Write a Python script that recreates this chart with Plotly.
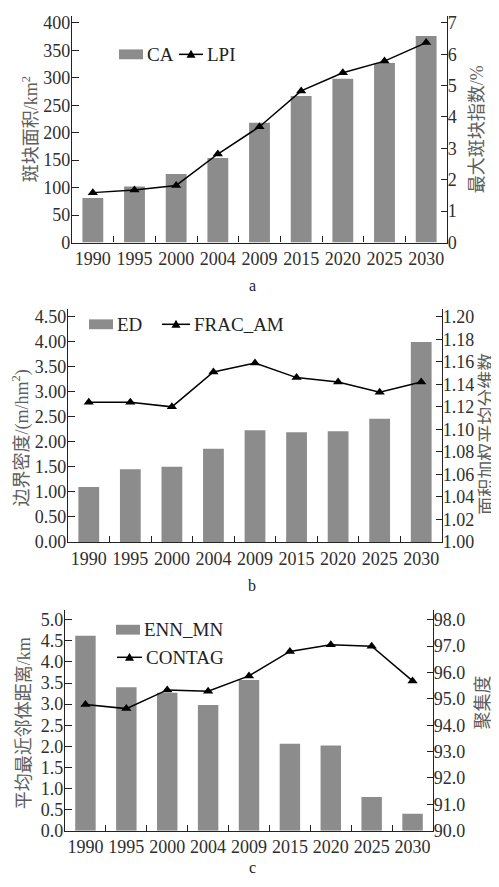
import plotly.graph_objects as go

# ---------------- data ----------------
years = ["1990", "1995", "2000", "2004", "2009", "2015", "2020", "2025", "2030"]

ca = [81, 102, 125, 154, 218, 267, 298, 327, 376]            # 斑块面积 / km2
lpi = [1.59, 1.67, 1.82, 2.82, 3.69, 4.83, 5.41, 5.78, 6.37]  # 最大斑块指数 / %

ed = [1.10, 1.45, 1.50, 1.86, 2.23, 2.19, 2.21, 2.46, 3.99]   # 边界密度
frac_am = [1.124, 1.124, 1.120, 1.151, 1.159, 1.146, 1.142, 1.133, 1.142]

enn_mn = [4.62, 3.40, 3.27, 2.98, 3.57, 2.06, 2.02, 0.80, 0.40]
contag = [94.79, 94.63, 95.34, 95.29, 95.87, 96.80, 97.05, 97.00, 95.68]

# ---------------- style ----------------
# the page body has an 8px default margin, so the figure is sized to the
# visible area and reference page coordinates are offset by that margin
OFF = 8
W, H = 499 - OFF, 887 - OFF
FONT = "Liberation Serif, Times New Roman, Noto Sans CJK SC, serif"
BAR = "#8c8c8c"
AXC = "#222222"
TICKC = "#2e2e2e"
TITC = "#5e5e5e"
TS = 18


def px(x):
    return (x - OFF) / W


def py(y):
    return 1 - (y - OFF) / H


panels = [
    dict(bars=ca, line=lpi, bname="CA", lname="LPI",
         box=(72, 447, 13, 243), yl=[0, 412.6], yr=[0, 7.22],
         dl=50, dr=1, fl="d", fr="d",
         ltitle="斑块面积/km<sup>2</sup>", ltx=30, lty=128,
         rtitle="最大斑块指数/%", rtx=477, rty=128, rts=18,
         label="a", laby=287),
    dict(bars=ed, line=frac_am, bname="ED", lname="FRAC_AM",
         box=(68, 442, 310, 547), yl=[0, 4.66], yr=[1.0, 1.2073],
         dl=0.5, dr=0.02, fl=".2f", fr=".2f",
         ltitle="边界密度/(m/hm<sup>2</sup>)", ltx=21, lty=442,
         rtitle="面积加权平均分维数", rtx=487, rty=437, rts=18,
         label="b", laby=591),
    dict(bars=enn_mn, line=contag, bname="ENN_MN", lname="CONTAG",
         box=(65, 433, 616, 840), yl=[0, 5.23], yr=[90, 98.37],
         dl=0.5, dr=1, fl=".1f", fr=".1f",
         ltitle="平均最近邻体距离/km", ltx=24, lty=731,
         rtitle="聚集度", rtx=483, rty=710, rts=18,
         label="c", laby=877),
]

fig = go.Figure()
layout = dict(
    width=W, height=H,
    margin=dict(l=0, r=0, t=0, b=0),
    paper_bgcolor="white", plot_bgcolor="white",
    font=dict(family=FONT, size=TS, color=TICKC),
    showlegend=False,
    bargap=0.5,
)
annotations = []
shapes = []

for i, p in enumerate(panels):
    k = i + 1
    xa = "x" if k == 1 else f"x{k}"
    yl_id = 2 * k - 1
    yr_id = 2 * k
    yl = "y" if yl_id == 1 else f"y{yl_id}"
    yr = f"y{yr_id}"
    x0, x1, t, b = p["box"]

    fig.add_trace(go.Bar(x=years, y=p["bars"], name=p["bname"],
                         marker=dict(color=BAR, line=dict(width=0)),
                         width=0.5, xaxis=xa, yaxis=yl))
    fig.add_trace(go.Scatter(x=years, y=p["line"], name=p["lname"],
                             mode="lines+markers",
                             line=dict(color="black", width=1.5),
                             marker=dict(symbol="triangle-up", size=9, color="black"),
                             xaxis=xa, yaxis=yr, cliponaxis=False))

    xkey = "xaxis" if k == 1 else f"xaxis{k}"
    ylkey = "yaxis" if yl_id == 1 else f"yaxis{yl_id}"
    yrkey = f"yaxis{yr_id}"

    layout[xkey] = dict(
        domain=[px(x0), px(x1)], anchor=yl, type="category",
        range=[-0.5, 8.5], showline=True, linecolor=AXC, linewidth=1.3,
        ticks="inside", tickson="boundaries", ticklen=6, tickcolor=AXC,
        tickangle=0, showgrid=False, zeroline=False,
        tickfont=dict(family=FONT, size=TS, color=TICKC),
    )
    layout[ylkey] = dict(
        domain=[py(b), py(t)], anchor=xa, range=p["yl"],
        tick0=p["yl"][0], dtick=p["dl"], tickformat=p["fl"],
        showline=True, linecolor=AXC, linewidth=1.3,
        ticks="inside", ticklen=7, tickcolor=AXC,
        ticklabelstandoff=-3,
        showgrid=False, zeroline=False,
        tickfont=dict(family=FONT, size=TS, color=TICKC),
    )
    layout[yrkey] = dict(
        domain=[py(b), py(t)], anchor=xa, overlaying=yl, side="right",
        range=p["yr"], tick0=p["yr"][0], dtick=p["dr"], tickformat=p["fr"],
        showline=True, linecolor=AXC, linewidth=1.3,
        ticks="inside", ticklen=6, tickcolor=AXC,
        ticklabelstandoff=-4,
        showgrid=False, zeroline=False,
        tickfont=dict(family=FONT, size=TS, color=TICKC),
    )

    # axis titles
    annotations.append(dict(text=p["ltitle"], x=px(p["ltx"]), y=py(p["lty"]),
                            xref="paper", yref="paper", showarrow=False,
                            textangle=-90, xanchor="center", yanchor="middle",
                            font=dict(family=FONT, size=18, color=TITC)))
    annotations.append(dict(text=p["rtitle"], x=px(p["rtx"]), y=py(p["rty"]),
                            xref="paper", yref="paper", showarrow=False,
                            textangle=-90, xanchor="center", yanchor="middle",
                            font=dict(family=FONT, size=p["rts"], color=TITC)))
    # panel label
    annotations.append(dict(text=p["label"], x=px(252), y=py(p["laby"]),
                            xref="paper", yref="paper", showarrow=False,
                            xanchor="center", yanchor="middle",
                            font=dict(family=FONT, size=16, color="#222222")))


# ---------------- legends (drawn as shapes + text) ----------------
def legend_box(xa, xb, yc, text):
    shapes.append(dict(type="rect", xref="paper", yref="paper",
                       x0=px(xa), x1=px(xb), y0=py(yc + 5), y1=py(yc - 5),
                       fillcolor=BAR, line=dict(width=0)))
    annotations.append(dict(text=text, x=px(xb + 2), y=py(yc), xref="paper", yref="paper",
                            showarrow=False, xanchor="left", yanchor="middle",
                            font=dict(family=FONT, size=TS + 1, color="#222222")))


def legend_line(xa, xb, yc, text):
    shapes.append(dict(type="line", xref="paper", yref="paper",
                       x0=px(xa), x1=px(xb), y0=py(yc), y1=py(yc),
                       line=dict(color="black", width=1.5)))
    shapes.append(dict(type="path", xref="paper", yref="paper",
                       xsizemode="pixel", ysizemode="pixel",
                       xanchor=px((xa + xb) / 2), yanchor=py(yc),
                       path="M-4.5,-3.5 L4.5,-3.5 L0,4.5 Z",
                       fillcolor="black", line=dict(width=0)))
    annotations.append(dict(text=text, x=px(xb + 2), y=py(yc), xref="paper", yref="paper",
                            showarrow=False, xanchor="left", yanchor="middle",
                            font=dict(family=FONT, size=TS + 1, color="#222222")))


legend_box(119, 143, 52, "CA")
legend_line(179, 203, 52, "LPI")
legend_box(89, 113, 326, "ED")
legend_line(162, 190, 326, "FRAC_AM")
legend_box(116, 140, 636, "ENN_MN")
legend_line(117, 142, 664, "CONTAG")

layout["annotations"] = annotations
layout["shapes"] = shapes
fig.update_layout(**layout)

fig.write_html("out.html")
